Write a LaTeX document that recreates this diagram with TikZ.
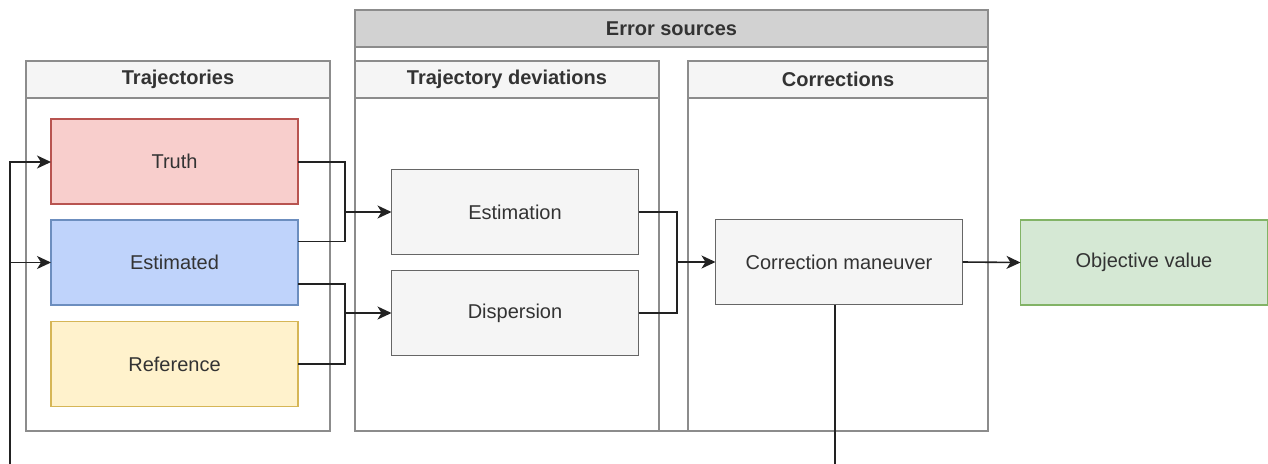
\documentclass[tikz,border=0pt]{standalone}
\usepackage{fontspec}
\setmainfont{Liberation Sans}
\usetikzlibrary{arrows.meta}
\definecolor{txt}{HTML}{333333}
\definecolor{lanegray}{HTML}{8C8C8C}
\definecolor{headlight}{HTML}{F5F5F5}
\definecolor{headdark}{HTML}{D2D2D2}
\definecolor{redfill}{HTML}{F8CECC}
\definecolor{redline}{HTML}{B85450}
\definecolor{bluefill}{HTML}{BFD3FB}
\definecolor{blueline}{HTML}{6C8EBF}
\definecolor{yelfill}{HTML}{FFF2CC}
\definecolor{yelline}{HTML}{D6B656}
\definecolor{grayfill}{HTML}{F5F5F5}
\definecolor{grayline}{HTML}{666666}
\definecolor{grnfill}{HTML}{D5E8D4}
\definecolor{grnline}{HTML}{82B366}
\definecolor{wire}{HTML}{222222}
\tikzset{
  base/.style={rectangle, inner sep=0pt, outer sep=0pt, font=\fontsize{20}{23}\selectfont, text=txt, line width=1.5pt},
  lanehead/.style={base, draw=lanegray, fill=headlight, font=\fontsize{20}{23}\selectfont\bfseries},
  lanebody/.style={base, draw=lanegray, fill=white},
  procbox/.style={base, minimum width=247pt, minimum height=85pt},
  graybox/.style={procbox, draw=grayline, fill=grayfill},
  link/.style={draw=wire, line width=1.6pt, -{Stealth[length=14pt,width=13pt,inset=4pt]}},
  plainlink/.style={draw=wire, line width=1.6pt},
}
\begin{document}
\begin{tikzpicture}[x=1pt,y=-1pt]
\useasboundingbox (0,0) rectangle (1268,463);
% Error sources outer lane
\node[lanebody, minimum width=633pt, minimum height=384pt] (errB) at (671.5,239) {};
\node[lanehead, fill=headdark, minimum width=633pt, minimum height=37pt] (errH) at (671.5,28.5) {Error sources};
% Trajectories lane
\node[lanebody, minimum width=304pt, minimum height=333pt] (trajB) at (178,264.5) {};
\node[lanehead, minimum width=304pt, minimum height=37pt] (trajH) at (178,79.5) {Trajectories};
% Trajectory deviations lane
\node[lanebody, minimum width=304pt, minimum height=333pt] (devB) at (507,264.5) {};
\node[lanehead, minimum width=304pt, minimum height=37pt] (devH) at (507,79.5) {Trajectory deviations};
% Corrections lane
\node[lanebody, minimum width=300pt, minimum height=333pt] (corB) at (838,264.5) {};
\node[lanehead, minimum width=300pt, minimum height=37pt] (corH) at (838,79.5) {Corrections};
% Nodes
\node[procbox, draw=redline, fill=redfill] (truth) at (174.5,161.5) {Truth};
\node[procbox, draw=blueline, fill=bluefill] (est) at (174.5,262.5) {Estimated};
\node[procbox, draw=yelline, fill=yelfill] (ref) at (174.5,364) {Reference};
\node[graybox] (estim) at (515,212) {Estimation};
\node[graybox] (disp) at (515,313) {Dispersion};
\node[graybox] (cm) at (839,262) {Correction maneuver};
\node[procbox, draw=grnline, fill=grnfill] (obj) at (1144,262.5) {Objective value};
% Connectors
\coordinate (j1) at (345,212);
\coordinate (j2) at (345,313);
\coordinate (j3) at (677,262);
\coordinate (loopB) at (835,480);
\coordinate (loopL) at (10,480);
\draw[plainlink] ([yshift=-0.5pt]truth.east) -| (j1);
\draw[plainlink] ([yshift=21pt]est.east) -| (j1);
\draw[link] (j1) -- (estim.west);
\draw[plainlink] ([yshift=-21.5pt]est.east) -| (j2);
\draw[plainlink] ([yshift=0pt]ref.east) -| (j2);
\draw[link] (j2) -- (disp.west);
\draw[plainlink] (estim.east) -| (j3);
\draw[plainlink] (disp.east) -| (j3);
\draw[link] (j3) -- (cm.west);
\draw[link] (cm.east) -- (obj.west);
\draw[plainlink] ([xshift=-4pt]cm.south) -- ([xshift=-4pt]cm.south |- loopB) -- (loopL);
\draw[link] (loopL) |- ([yshift=-0.5pt]truth.west);
\draw[link] (loopL) |- (est.west);
\end{tikzpicture}
\end{document}
